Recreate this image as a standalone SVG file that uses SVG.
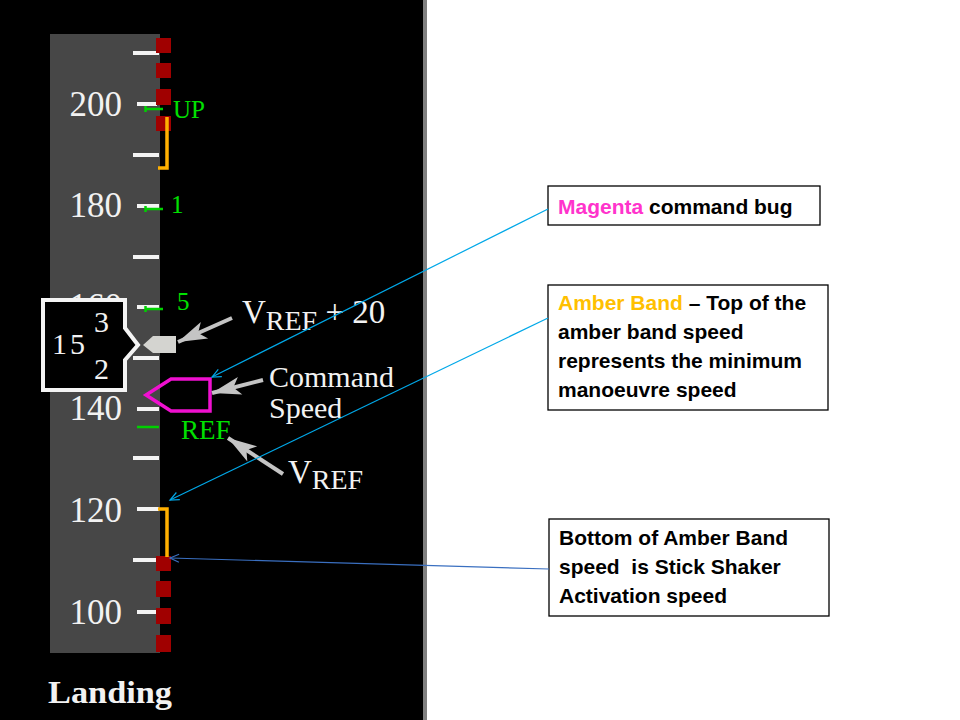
<svg xmlns="http://www.w3.org/2000/svg" width="960" height="720" viewBox="0 0 960 720">
<defs>
<style>
.tick{stroke:#f4f4f4;stroke-width:4}
.num{font-family:"Liberation Serif",serif;font-size:35px;fill:#f2f2f2;text-anchor:end}
.grn{font-family:"Liberation Serif",serif;fill:#00e000}
.flap{stroke:#00d000;stroke-width:2.5;fill:none}
.red{fill:#a00000}
.amb{stroke:#ffb000;stroke-width:3.5;fill:none}
.lbl{font-family:"Liberation Serif",serif;fill:#f2f2f2}
.box{fill:#ffffff;stroke:#000000;stroke-width:1.3}
.bt{font-family:"Liberation Sans",Arial,sans-serif;font-weight:bold;font-size:21px;fill:#000000}
.gline{stroke:#c4c4c4;stroke-width:4;fill:none}
.blue{stroke:#00a8e8;stroke-width:1.2;fill:none}
.blue2{stroke:#3a6fc0;stroke-width:1.2;fill:none}
</style>
<marker id="gh" markerUnits="userSpaceOnUse" markerWidth="40" markerHeight="30" refX="0" refY="0" viewBox="-34 -15 40 30" orient="auto" overflow="visible">
<path d="M0,0 L-29,-9 L-22,0 L-29,9 Z" fill="#c4c4c4"/>
</marker>
<marker id="ba" markerUnits="userSpaceOnUse" markerWidth="20" markerHeight="20" viewBox="-12 -10 20 20" refX="0" refY="0" orient="auto" overflow="visible">
<path d="M-9,-4 L0,0 L-9,4" fill="none" stroke="#00a8e8" stroke-width="1.2"/>
</marker>
<marker id="bb" markerUnits="userSpaceOnUse" markerWidth="20" markerHeight="20" viewBox="-12 -10 20 20" refX="0" refY="0" orient="auto" overflow="visible">
<path d="M-9,-4 L0,0 L-9,4" fill="none" stroke="#3a6fc0" stroke-width="1.2"/>
</marker>
</defs>

<rect x="0" y="0" width="960" height="720" fill="#ffffff"/>
<rect x="0" y="0" width="423" height="720" fill="#000000"/>
<rect x="423" y="0" width="4" height="720" fill="#808080"/>

<g id="tape">
<rect x="50" y="34" width="110" height="619" fill="#474747"/>
<line class="tick" x1="133" y1="53" x2="159" y2="53"/>
<line class="tick" x1="137" y1="104" x2="157" y2="104"/>
<line class="tick" x1="133" y1="155" x2="159" y2="155"/>
<line class="tick" x1="137" y1="206" x2="159" y2="206"/>
<line class="tick" x1="133" y1="257" x2="159" y2="257"/>
<line class="tick" x1="137" y1="307" x2="159" y2="307"/>
<line class="tick" x1="133" y1="358" x2="159" y2="358"/>
<line class="tick" x1="137" y1="409" x2="159" y2="409"/>
<line class="tick" x1="133" y1="458" x2="159" y2="458"/>
<line class="tick" x1="137" y1="509" x2="159" y2="509"/>
<line class="tick" x1="133" y1="560" x2="159" y2="560"/>
<line class="tick" x1="137" y1="612" x2="159" y2="612"/>
<text class="num" x="122" y="116">200</text>
<text class="num" x="122" y="217">180</text>
<text class="num" x="122" y="318">160</text>
<text class="num" x="122" y="420">140</text>
<text class="num" x="122" y="522">120</text>
<text class="num" x="122" y="624">100</text>
</g>

<g id="barber-pole">
<rect class="red" x="156" y="38" width="15" height="15"/>
<rect class="red" x="156" y="63" width="15" height="15"/>
<rect class="red" x="156" y="89" width="15" height="16"/>
<rect class="red" x="156" y="116" width="15" height="15"/>
<rect class="red" x="156" y="556" width="15" height="15"/>
<rect class="red" x="156" y="581" width="15" height="16"/>
<rect class="red" x="156" y="608" width="15" height="16"/>
<rect class="red" x="156" y="635" width="15" height="17"/>
</g>

<g id="amber-band">
<polyline class="amb" points="167,117 167,168 158,168"/>
<polyline class="amb" points="158,509 167,509 167,557"/>
</g>

<g id="flaps">
<path class="flap" d="M145,109 H163 M145.5,106 V112"/>
<path class="flap" d="M145,209 H163 M145.5,206 V212"/>
<path class="flap" d="M145,309 H163 M145.5,306 V312"/>
<line x1="137" y1="427" x2="159" y2="427" stroke="#00d000" stroke-width="2.5"/>
<text class="grn" x="173" y="118" font-size="25">UP</text>
<text class="grn" x="171" y="213" font-size="25">1</text>
<text class="grn" x="177" y="310" font-size="25">5</text>
<text class="grn" x="181" y="439" font-size="27">REF</text>
</g>

<g id="speed-readout">
<path d="M43,300 H125 V328 L138,345 L125,360 V390 H43 Z" fill="#000000" stroke="#f4f4f4" stroke-width="4"/>
<text class="lbl" x="52" y="354" font-size="30" letter-spacing="3">15</text>
<text class="lbl" x="94" y="332" font-size="30">3</text>
<text class="lbl" x="94" y="379" font-size="30">2</text>
</g>

<g id="vref20-bug">
<path d="M143,345 L153,336 H176 V353 H153 Z" fill="#d4d4d0"/>
</g>

<g id="command-bug">
<path d="M146,395 L171,379 H210 V411 H171 Z" fill="none" stroke="#f010d0" stroke-width="3.5" stroke-linejoin="miter"/>
</g>

<g id="label-vref20">
<text class="lbl" x="242" y="323" font-size="33">V<tspan font-size="28" dy="7">REF</tspan><tspan font-size="33" dy="-7"> + 20</tspan></text>
</g>
<g id="label-command">
<text class="lbl" x="269" y="387" font-size="30">Command</text>
<text class="lbl" x="269" y="418" font-size="30">Speed</text>
</g>
<g id="label-vref">
<text class="lbl" x="288" y="483" font-size="33">V<tspan font-size="28" dy="6">REF</tspan></text>
</g>
<g id="label-landing">
<text x="48" y="703" font-family="'Liberation Serif',serif" font-weight="bold" font-size="31" fill="#f2f2f2" textLength="124" lengthAdjust="spacingAndGlyphs">Landing</text>
</g>

<g id="box-magenta">
<rect class="box" x="548" y="186" width="272" height="39"/>
<text class="bt" x="558" y="214"><tspan fill="#ff33cc">Magenta</tspan> command bug</text>
</g>
<g id="box-amber">
<rect class="box" x="548" y="285" width="280" height="125"/>
<text class="bt" x="558" y="310"><tspan fill="#ffc000">Amber Band</tspan> – Top of the</text>
<text class="bt" x="558" y="339">amber band speed</text>
<text class="bt" x="558" y="368">represents the minimum</text>
<text class="bt" x="558" y="397">manoeuvre speed</text>
</g>
<g id="box-bottom">
<rect class="box" x="549" y="519" width="280" height="97"/>
<text class="bt" x="559" y="545">Bottom of Amber Band</text>
<text class="bt" x="559" y="574" xml:space="preserve">speed  is Stick Shaker</text>
<text class="bt" x="559" y="603">Activation speed</text>
</g>

<g id="connectors">
<line class="gline" x1="232" y1="318" x2="178" y2="342" marker-end="url(#gh)"/>
<line class="gline" x1="263" y1="380" x2="212" y2="393" marker-end="url(#gh)"/>
<line class="gline" x1="283" y1="474" x2="228" y2="438" marker-end="url(#gh)"/>
<line class="blue" x1="548" y1="209" x2="212" y2="377" marker-end="url(#ba)"/>
<line class="blue" x1="548" y1="318" x2="170" y2="500" marker-end="url(#ba)"/>
<line class="blue2" x1="549" y1="569" x2="170" y2="558" marker-end="url(#bb)"/>
</g>
</svg>
